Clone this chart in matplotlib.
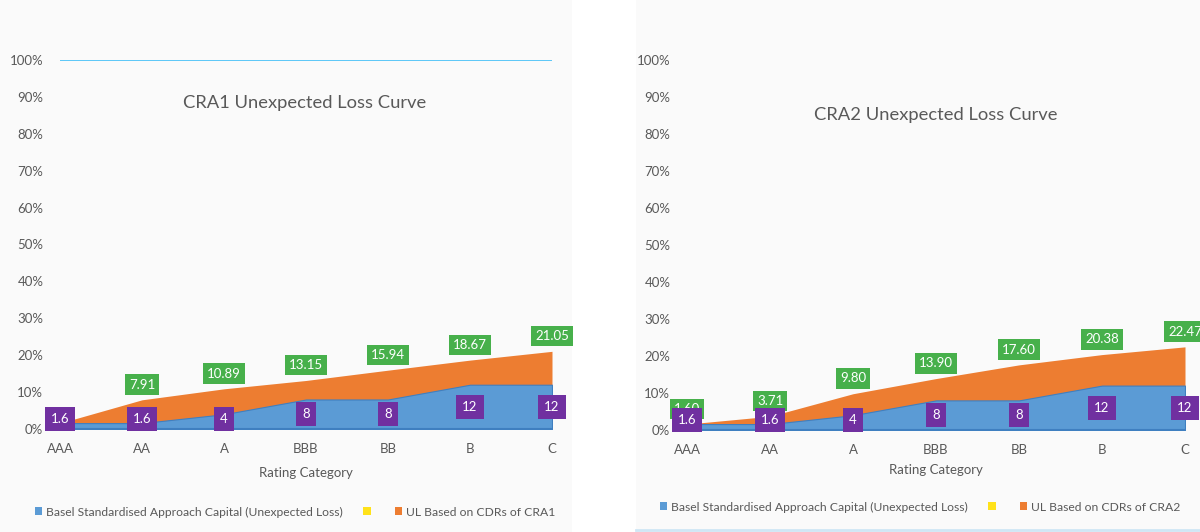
import matplotlib
matplotlib.use("Agg")
import matplotlib.pyplot as plt
from matplotlib.patches import Rectangle, Patch
from matplotlib.lines import Line2D

# ---- data ----
categories = ["AAA", "AA", "A", "BBB", "BB", "B", "C"]
basel_capital = [1.6, 1.6, 4, 8, 8, 12, 12]
cra1_ul = [1.6, 7.91, 10.89, 13.15, 15.94, 18.67, 21.05]
cra2_ul = [1.6, 3.71, 9.80, 13.90, 17.60, 20.38, 22.47]
y_ticks = [0, 10, 20, 30, 40, 50, 60, 70, 80, 90, 100]
y_tick_labels = ["0%", "10%", "20%", "30%", "40%", "50%", "60%", "70%", "80%", "90%", "100%"]

plt.rcParams['font.family'] = ['Lato', 'DejaVu Sans']

BLUE = '#5b9bd5'
BLUE_EDGE = '#3f7fc0'
ORANGE = '#ed7d31'
YELLOW = '#ffe21a'
PURPLE = '#7030a0'
GREEN = '#47b04b'
GREY = '#595959'
PANEL = '#fafafa'

W, H = 1200, 532
fig = plt.figure(figsize=(12, 5.32), dpi=100)
fig.patch.set_facecolor('white')

def fx(px):
    return px / W

def fy(py):
    return 1 - py / H

# panel backgrounds
fig.patches.append(Rectangle((0, 0), fx(572), 1, transform=fig.transFigure,
                             facecolor=PANEL, edgecolor='none', zorder=-5))
fig.patches.append(Rectangle((fx(636), 0), 1 - fx(636), 1, transform=fig.transFigure,
                             facecolor=PANEL, edgecolor='none', zorder=-5))
fig.add_artist(Line2D([fx(636), 1], [fy(530), fy(530)], transform=fig.transFigure,
                      color='#cfe6f5', lw=2, zorder=-4))


def draw_panel(x0, x1, ytop, ybot, ul, title, title_pos, show_first_green, ul_label,
               xlabel_y, legend_x, legend_y, top_line):
    ax = fig.add_axes([fx(x0), fy(ybot), fx(x1) - fx(x0), fy(ytop) - fy(ybot)])
    ax.set_zorder(2)
    ax.set_facecolor('none')
    ax.patch.set_visible(False)
    x = list(range(len(categories)))
    ax.fill_between(x, 0, ul, color=ORANGE, lw=0, zorder=2)
    ax.fill_between(x, 0, basel_capital, facecolor=BLUE, edgecolor=BLUE_EDGE, lw=0.8, zorder=3)
    ax.axhline(0, color=BLUE_EDGE, lw=1.5, zorder=4)
    if top_line:
        ax.axhline(100, color='#4fc3f7', lw=1.3, zorder=1)
    ax.set_xlim(0, len(categories) - 1)
    ax.set_ylim(0, 100)
    for s in ax.spines.values():
        s.set_visible(False)
    ax.set_yticks(y_ticks)
    ax.set_yticklabels(y_tick_labels, fontsize=9.5, color=GREY)
    ax.set_xticks(x)
    ax.set_xticklabels(categories, fontsize=9.5, color=GREY)
    ax.tick_params(axis='y', length=0, pad=12)
    ax.tick_params(axis='x', length=0, pad=10)

    # green labels (UL)
    for i, v in enumerate(ul):
        if i == 0 and not show_first_green:
            continue
        ax.annotate(f"{v:.2f}", (i, v), xytext=(0, 11), textcoords='offset points',
                    ha='center', va='center', color='white', fontsize=9.5,
                    bbox=dict(boxstyle='square,pad=0.32', fc=GREEN, ec='none'), zorder=6,
                    annotation_clip=False)
    # purple labels (Basel)
    for i, v in enumerate(basel_capital):
        ax.text(i, max(v / 2, 2.6), f"{v:g}", ha='center', va='center', color='white',
                fontsize=9.5, bbox=dict(boxstyle='square,pad=0.45', fc=PURPLE, ec='none'),
                zorder=7, clip_on=False)

    ax.text(title_pos[0], title_pos[1], title, transform=ax.transAxes, ha='center',
            va='center', fontsize=13.2, color=GREY)
    fig.text(fx((x0 + x1) / 2), fy(xlabel_y), "Rating Category", ha='center', va='center',
             fontsize=9.5, color=GREY)

    handles = [Patch(facecolor=BLUE, edgecolor='none'),
               Patch(facecolor=YELLOW, edgecolor='none'),
               Patch(facecolor=ORANGE, edgecolor='none')]
    labels = ["Basel Standardised Approach Capital (Unexpected Loss)", "", ul_label]
    leg = ax.legend(handles, labels, loc='center', ncol=3,
                    bbox_to_anchor=(fx(legend_x), fy(legend_y)),
                    bbox_transform=fig.transFigure, frameon=False, fontsize=8.7,
                    handlelength=0.6, handleheight=0.6, handletextpad=0.3,
                    columnspacing=1.7, borderpad=0.1, borderaxespad=0)
    for t in leg.get_texts():
        t.set_color(GREY)
    return ax


draw_panel(60, 552, 60, 429, cra1_ul, "CRA1 Unexpected Loss Curve", (0.498, 0.883),
           False, "UL Based on CDRs of CRA1", 473, 295, 512, True)
draw_panel(687, 1185, 60, 430, cra2_ul, "CRA2 Unexpected Loss Curve", (0.5, 0.85),
           True, "UL Based on CDRs of CRA2", 470, 920, 507, False)

fig.savefig("out.png", dpi=100, facecolor=fig.get_facecolor())
